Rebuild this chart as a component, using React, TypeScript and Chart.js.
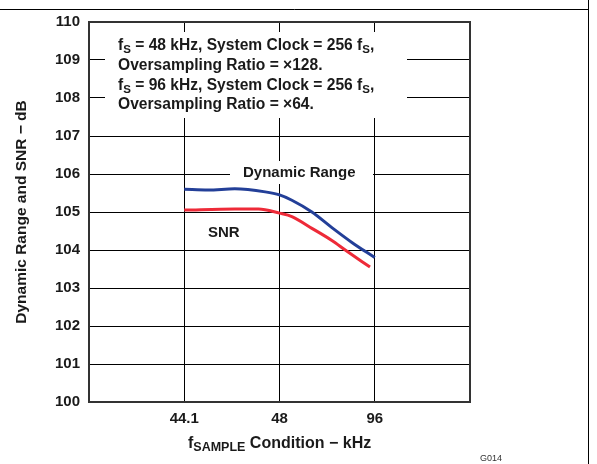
import React, { useEffect, useRef } from "react";
import { Chart, registerables } from "chart.js";

Chart.register(...registerables);

// ---- data ----
const xTickLabels = ["", "44.1", "48", "96", ""];
const yMin = 100;
const yMax = 110;

const dynX = [1, 1.25, 1.53, 1.85, 2, 2.13, 2.34, 2.55, 2.76, 3];
const dynY = [105.6, 105.58, 105.61, 105.53, 105.45, 105.31, 105.0, 104.59, 104.2, 103.8];

const snrX = [1, 1.53, 1.78, 2, 2.13, 2.34, 2.55, 2.69, 2.95];
const snrY = [105.05, 105.08, 105.08, 104.97, 104.88, 104.57, 104.25, 104.0, 103.55];

const noteLines = [
  [{ t: "f" }, { t: "S", sub: true }, { t: " = 48 kHz, System Clock = 256 f" }, { t: "S", sub: true }, { t: "," }],
  [{ t: "Oversampling Ratio = ×128." }],
  [{ t: "f" }, { t: "S", sub: true }, { t: " = 96 kHz, System Clock = 256 f" }, { t: "S", sub: true }, { t: "," }],
  [{ t: "Oversampling Ratio = ×64." }],
];

const FONT = '"Liberation Sans", Arial, Helvetica, sans-serif';

type Part = { t: string; sub?: boolean };

function drawRich(ctx: CanvasRenderingContext2D, x: number, y: number, parts: Part[], size: number, subSize: number, drop: number) {
  let cx = x;
  for (const p of parts) {
    ctx.font = `bold ${p.sub ? subSize : size}px ${FONT}`;
    ctx.fillText(p.t, cx, y + (p.sub ? drop : 0));
    cx += ctx.measureText(p.t).width;
  }
  return cx - x;
}

const decorPlugin = {
  id: "decor",
  beforeDatasetsDraw(chart: any) {
    const ctx: CanvasRenderingContext2D = chart.ctx;
    ctx.save();
    // white boxes behind annotations
    ctx.fillStyle = "#ffffff";
    ctx.fillRect(105, 32, 302, 86);
    ctx.fillRect(230, 161, 143, 23);
    ctx.fillStyle = "#1a1a1a";
    ctx.textBaseline = "alphabetic";
    ctx.textAlign = "left";
    const baselines = [50, 70, 90, 109];
    noteLines.forEach((ln, i) => {
      drawRich(ctx, 118, baselines[i], ln as Part[], 15.6, 11.5, 3);
    });
    ctx.font = `bold 15px ${FONT}`;
    ctx.fillText("Dynamic Range", 243, 177);
    ctx.fillText("SNR", 208, 237);
    ctx.restore();
  },
  afterDraw(chart: any) {
    const ctx: CanvasRenderingContext2D = chart.ctx;
    const a = chart.chartArea;
    ctx.save();
    // plot border
    ctx.strokeStyle = "#333333";
    ctx.lineWidth = 2;
    ctx.strokeRect(a.left, a.top, a.right - a.left, a.bottom - a.top);
    // outer frame
    ctx.strokeStyle = "#000000";
    ctx.lineWidth = 1;
    ctx.beginPath();
    ctx.moveTo(0, 9.5);
    ctx.lineTo(588.5, 9.5);
    ctx.moveTo(588.5, 0);
    ctx.lineTo(588.5, 464);
    ctx.stroke();
    // x title
    ctx.fillStyle = "#1a1a1a";
    ctx.textBaseline = "alphabetic";
    ctx.textAlign = "left";
    drawRich(ctx, 188, 448, [{ t: "f" }, { t: "SAMPLE", sub: true }, { t: " Condition − kHz" }], 16, 12.5, 3);
    // y title
    ctx.save();
    ctx.translate(26, (a.top + a.bottom) / 2);
    ctx.rotate(-Math.PI / 2);
    ctx.textAlign = "center";
    ctx.font = `bold 15.5px ${FONT}`;
    ctx.fillText("Dynamic Range and SNR − dB", 0, 0);
    ctx.restore();
    // figure id
    ctx.font = `9px ${FONT}`;
    ctx.fillStyle = "#333";
    ctx.fillText("G014", 480, 461);
    ctx.restore();
  },
};

export default function App() {
  const ref = useRef<HTMLCanvasElement | null>(null);
  useEffect(() => {
    if (!ref.current) return;
    const chart = new Chart(ref.current, {
      type: "line",
      data: {
        datasets: [
          {
            label: "Dynamic Range",
            data: dynX.map((x, i) => ({ x, y: dynY[i] })),
            borderColor: "#233f98",
            borderWidth: 3,
            pointRadius: 0,
            tension: 0.4,
            cubicInterpolationMode: "monotone",
            fill: false,
          },
          {
            label: "SNR",
            data: snrX.map((x, i) => ({ x, y: snrY[i] })),
            borderColor: "#ee2a38",
            borderWidth: 3,
            pointRadius: 0,
            tension: 0.4,
            cubicInterpolationMode: "monotone",
            fill: false,
          },
        ],
      },
      options: {
        responsive: false,
        animation: false,
        layout: { padding: { left: 0, top: 22, right: 127, bottom: 0 } },
        plugins: { legend: { display: false }, tooltip: { enabled: false } },
        scales: {
          x: {
            type: "linear",
            min: 0,
            max: 4,
            afterFit: (s: any) => {
              s.height = 62;
            },
            ticks: {
              stepSize: 1,
              autoSkip: false,
              maxRotation: 0,
              padding: 8,
              color: "#1a1a1a",
              font: { family: FONT, size: 15, weight: "bold" },
              callback: (v: any) => xTickLabels[Math.round(Number(v))] ?? "",
            },
            grid: { color: "#000000", lineWidth: 1, drawTicks: false },
            border: { display: false },
          },
          y: {
            min: yMin,
            max: yMax,
            afterFit: (s: any) => {
              s.width = 89;
            },
            ticks: {
              stepSize: 1,
              padding: 9,
              color: "#1a1a1a",
              font: { family: FONT, size: 15, weight: "bold" },
            },
            grid: { color: "#000000", lineWidth: 1, drawTicks: false },
            border: { display: false },
          },
        },
      },
      plugins: [decorPlugin],
    } as any);
    return () => chart.destroy();
  }, []);
  return (
    <div style={{ position: "absolute", left: 0, top: 0, width: 597, height: 464, background: "#fff" }}>
      <canvas ref={ref} width={597} height={464} style={{ display: "block" }} />
    </div>
  );
}
